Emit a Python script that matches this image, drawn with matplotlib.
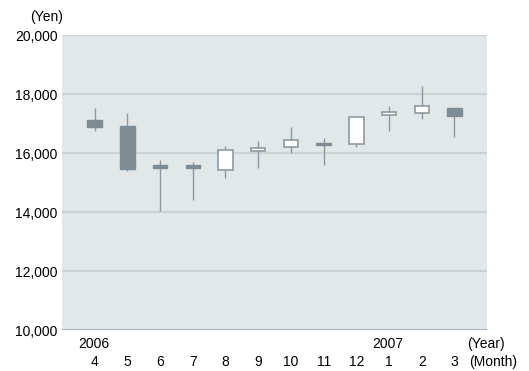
#!/usr/bin/env python

import matplotlib
matplotlib.use("Agg")
import matplotlib.pyplot as plt
import numpy as np

plt.rcParams['font.family'] = ['Liberation Sans', 'DejaVu Sans']

# monthly share price, April 2006 - March 2007 (yen)
months = ["4", "5", "6", "7", "8", "9", "10", "11", "12", "1", "2", "3"]
years = {0: "2006", 9: "2007"}
opens  = [17130, 16930, 15610, 15610, 15420, 16070, 16200, 16330, 16290, 17300, 17360, 17520]
closes = [16880, 15460, 15480, 15480, 16110, 16160, 16430, 16260, 17220, 17390, 17600, 17270]
highs  = [17530, 17360, 15780, 15690, 16230, 16410, 16870, 16500, 17270, 17610, 18280, 17530]
lows   = [16740, 15400, 14020, 14420, 15160, 15490, 16000, 15600, 16190, 16760, 17170, 16530]
yticks = [10000, 12000, 14000, 16000, 18000, 20000]

bg = "#e2e7ea"
grid_c = "#c9d3d7"
dark = "#7f8b92"
wick_c = "#8d999f"
axis_c = "#8fa4ad"

fig = plt.figure(figsize=(5.29, 3.71), dpi=100)
ax = fig.add_axes([0.117, 0.1105, 0.804, 0.795])
ax.set_facecolor(bg)

x = np.arange(len(months))
o = np.array(opens)
c = np.array(closes)
up = c >= o

# grid lines
for v in yticks[1:]:
    ax.axhline(v, color=grid_c, lw=1.6, zorder=1)
ax.axhline(yticks[0], color=axis_c, lw=1.8, zorder=4)

# wicks
ax.vlines(x, lows, highs, color=wick_c, lw=1.0, zorder=2)

# bodies
bottoms = np.minimum(o, c)
heights = np.abs(c - o)
ax.bar(x[up], heights[up], bottom=bottoms[up], width=0.44,
       facecolor="white", edgecolor=wick_c, lw=1.2, zorder=3)
ax.bar(x[~up], heights[~up], bottom=bottoms[~up], width=0.44,
       facecolor=dark, edgecolor=dark, lw=1.0, zorder=3)

ax.set_xlim(-1, 12)
ax.set_ylim(10000, 20000)
ax.set_yticks(yticks)
ax.set_yticklabels(["{:,}".format(v) for v in yticks], fontsize=10)
ax.tick_params(axis='y', length=0, pad=3)
ax.set_xticks([])
for s in ax.spines.values():
    s.set_visible(False)

fig.text(63 / 529, 1 - 17 / 371, "(Yen)", ha="right", va="center", fontsize=10)

# month / year labels under the axis
for i, m in enumerate(months):
    ax.annotate(m, (x[i], 10000), xytext=(0, -32), textcoords="offset pixels",
                ha="center", va="center", fontsize=10, annotation_clip=False)
for i, yr in years.items():
    ax.annotate(yr, (x[i], 10000), xytext=(-1, -14), textcoords="offset pixels",
                ha="center", va="center", fontsize=10, annotation_clip=False)
ax.annotate("(Year)", (12, 10000), xytext=(18, -14), textcoords="offset pixels",
            ha="right", va="center", fontsize=10, annotation_clip=False)
ax.annotate("(Month)", (12, 10000), xytext=(30, -32), textcoords="offset pixels",
            ha="right", va="center", fontsize=10, annotation_clip=False)

plt.savefig("out.png", dpi=100)
